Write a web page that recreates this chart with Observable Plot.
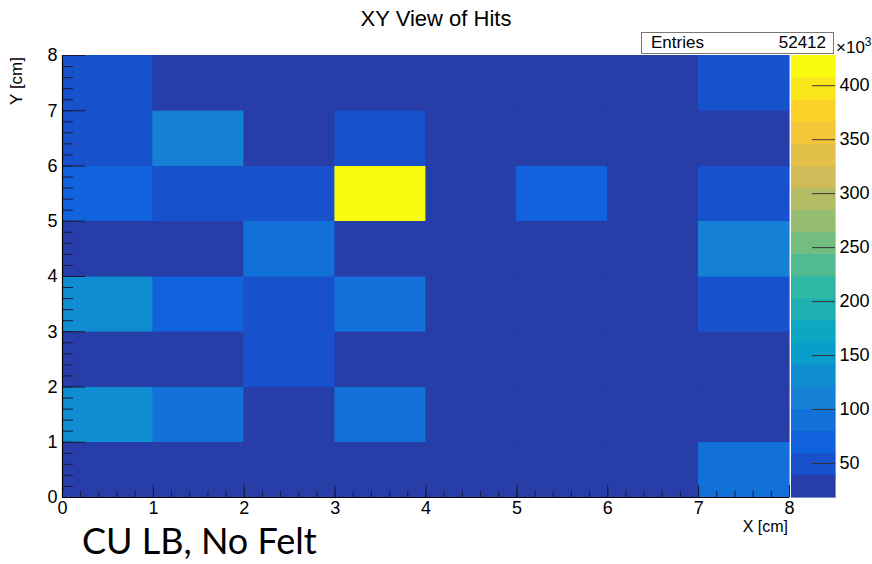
<!DOCTYPE html>
<html>
<head>
<meta charset="utf-8">
<script src="https://cdn.jsdelivr.net/npm/d3@7"></script>
<script src="https://cdn.jsdelivr.net/npm/@observablehq/plot@0.6"></script>
<style>
  html, body { margin: 0; padding: 0; background: #fff; }
  #wrap { position: relative; width: 872px; height: 564px; overflow: hidden; font-family: "Liberation Sans", Arial, sans-serif; }
  #wrap svg { position: absolute; left: 0; top: 0; }
  .lbl { position: absolute; white-space: nowrap; color: #000; }
</style>
</head>
<body>
<div id="wrap"></div>
<script>
// ---- data (bin contents in units of 10^3) ----
const xEdges = [0, 1, 2, 3, 4, 5, 6, 7, 8];
const yEdges = [0, 1, 2, 3, 4, 5, 6, 7, 8];
// rows from y=0..1 (bottom) up to y=7..8 (top), columns x=0..1 .. 7..8
const row0 = [26, 24, 22, 25, 21, 18.5, 20, 92];
const row1 = [130, 90, 27, 90, 25, 22, 19, 23];
const row2 = [30, 27, 52, 28, 24, 21, 20, 22];
const row3 = [132, 70, 50, 92, 26, 23, 22, 52];
const row4 = [28, 25, 92, 27, 24, 22, 25, 112];
const row5 = [70, 52, 50, 428, 30, 72, 26, 48];
const row6 = [50, 110, 26, 48, 24, 22, 21, 23];
const row7 = [50, 25, 24, 23, 24, 22, 25, 50];
const rows = [row0, row1, row2, row3, row4, row5, row6, row7];

const xTickLabels = [0, 1, 2, 3, 4, 5, 6, 7, 8];
const yTickLabels = [0, 1, 2, 3, 4, 5, 6, 7, 8];
const zTickLabels = [50, 100, 150, 200, 250, 300, 350, 400];
const nContours = 20;
const entries = 52412;

// ROOT kBird palette stops
const birdR = [0.2082, 0.0592, 0.0780, 0.0232, 0.1802, 0.5301, 0.8186, 0.9956, 0.9764];
const birdG = [0.1664, 0.3599, 0.5041, 0.6419, 0.7178, 0.7492, 0.7328, 0.7862, 0.9832];
const birdB = [0.5293, 0.8684, 0.8385, 0.7914, 0.6425, 0.4662, 0.3499, 0.1968, 0.0539];

// ---- derived ----
const cells = [];
rows.forEach((r, j) => r.forEach((v, i) => cells.push({
  x1: xEdges[i], x2: xEdges[i + 1], y1: yEdges[j], y2: yEdges[j + 1], v
})));
const [zmin, zmax] = d3.extent(cells, d => d.v);
const step = (zmax - zmin) / nContours;
function bird(t) {
  const s = t * (birdR.length - 1);
  const k = Math.min(Math.floor(s), birdR.length - 2);
  const f = s - k;
  const c = a => Math.round(255 * (a[k] + (a[k + 1] - a[k]) * f));
  return `rgb(${c(birdR)},${c(birdG)},${c(birdB)})`;
}
const bandColors = d3.range(nContours).map(k => bird(Math.floor((k + 0.99) * 255 / nContours) / 254));
const thresholds = d3.range(1, nContours).map(k => zmin + k * step);
const bands = d3.range(nContours).map(k => ({ y1: zmin + k * step, y2: zmin + (k + 1) * step, v: zmin + (k + 0.5) * step }));
const colorScale = { type: "threshold", domain: thresholds, range: bandColors };

const W = 872, H = 564;
const mL = 62, mR = 83, mT = 55, mB = 67;
const plotH = H - mT - mB, plotW = W - mL - mR;
const xMinor = d3.range(0, 8.001, 0.2);
const yMinor = d3.range(0, 8.001, 0.2);
const FS = 18;

const main = Plot.plot({
  width: W, height: H,
  marginLeft: mL, marginRight: mR, marginTop: mT, marginBottom: mB,
  style: { background: "transparent", fontFamily: "Liberation Sans, Arial, sans-serif", fontSize: FS + "px", color: "#000" },
  x: { domain: [0, 8] },
  y: { domain: [0, 8] },
  color: colorScale,
  marks: [
    Plot.rect(cells, { x1: "x1", x2: "x2", y1: "y1", y2: "y2", fill: "v", stroke: "v", strokeWidth: 0.6, shapeRendering: "crispEdges" }),
    Plot.tickX(xMinor, { x: d => d, insetTop: plotH - 6, stroke: "#1a1a40" }),
    Plot.tickX(xTickLabels, { x: d => d, insetTop: plotH - 12, stroke: "#1a1a40" }),
    Plot.tickY(yMinor, { y: d => d, insetRight: plotW - 11, stroke: "#1a1a40" }),
    Plot.tickY(yTickLabels, { y: d => d, insetRight: plotW - 23, stroke: "#1a1a40" }),
    Plot.ruleY([0], { stroke: "#000", strokeWidth: 1.2 }),
    Plot.ruleX([0], { stroke: "#000", strokeWidth: 1.2 }),
    Plot.axisX({ ticks: xTickLabels, tickSize: 0, tickPadding: 4, label: null, tickFormat: d => d, fontSize: FS }),
    Plot.axisY({ ticks: yTickLabels, tickSize: 0, tickPadding: 5, label: null, tickFormat: d => d, fontSize: FS })
  ]
});

const cbL = 791, cbR = 835;
const bar = Plot.plot({
  width: W, height: H,
  marginLeft: cbL, marginRight: W - cbR, marginTop: mT, marginBottom: mB,
  style: { background: "transparent", fontFamily: "Liberation Sans, Arial, sans-serif", fontSize: FS + "px", color: "#000" },
  x: { domain: [0, 1], axis: null },
  y: { domain: [zmin, zmax] },
  color: colorScale,
  marks: [
    Plot.rect(bands, { x1: 0, x2: 1, y1: "y1", y2: "y2", fill: "v", stroke: "v", strokeWidth: 0.6, shapeRendering: "crispEdges" }),
    Plot.tickY(zTickLabels, { y: d => d, insetLeft: (cbR - cbL) - 23, stroke: "#333" }),
    Plot.axisY({ anchor: "right", ticks: zTickLabels, tickSize: 0, tickPadding: 4, label: null, tickFormat: d => d, fontSize: FS })
  ]
});

const wrap = document.getElementById("wrap");
wrap.appendChild(main);
wrap.appendChild(bar);

function addLabel(html, css) {
  const d = document.createElement("div");
  d.className = "lbl";
  d.innerHTML = html;
  Object.assign(d.style, css);
  wrap.appendChild(d);
  return d;
}
addLabel("XY View of Hits", { left: "0px", width: "872px", textAlign: "center", top: "6px", fontSize: "22px" });
addLabel(`<span style="position:absolute;left:9px;top:0px">Entries</span><span style="position:absolute;right:7px;top:0px">${entries}</span>`,
  { left: "641px", top: "32px", width: "191px", height: "20px", border: "1px solid #777", background: "#fff", fontSize: "17px" });
addLabel("&times;10<sup style='font-size:12px;vertical-align:7px'>3</sup>", { left: "836px", top: "35px", fontSize: "17px" });
addLabel("X [cm]", { right: `${W - 788}px`, top: "518px", fontSize: "16px" });
addLabel("Y [cm]", { left: "7px", top: "57px", fontSize: "17px", writingMode: "vertical-rl", transform: "rotate(180deg)" });
addLabel("CU LB, No Felt", { left: "82px", top: "518px", fontSize: "36px", fontFamily: "Lato, 'Open Sans', sans-serif" });
</script>
</body>
</html>
